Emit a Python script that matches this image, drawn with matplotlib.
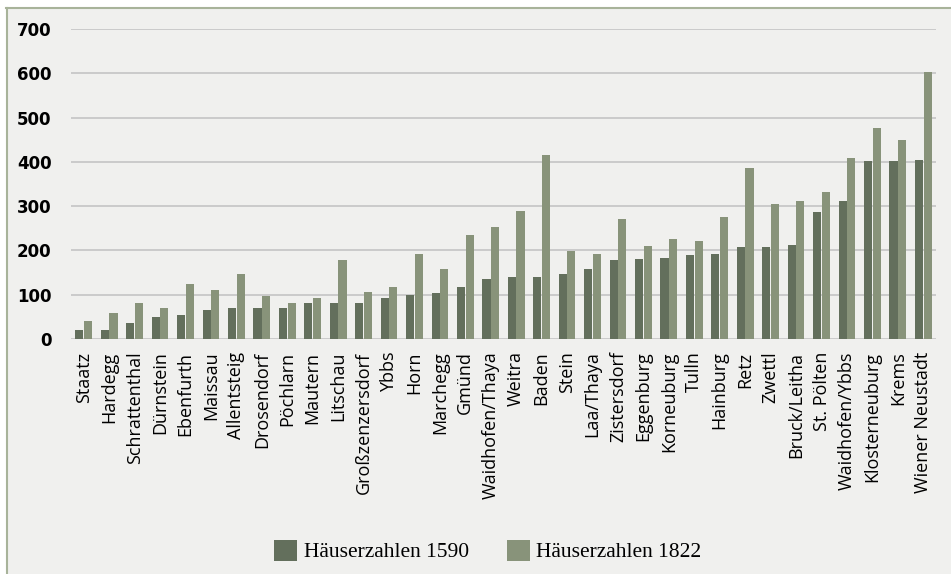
import matplotlib.pyplot as plt
import numpy as np
from matplotlib.patches import Patch, Rectangle
from matplotlib.lines import Line2D

# Häuserzahlen der niederösterreichischen Städte
towns = ['Staatz', 'Hardegg', 'Schrattenthal', 'Dürnstein', 'Ebenfurth', 'Maissau',
         'Allentsteig', 'Drosendorf', 'Pöchlarn', 'Mautern', 'Litschau', 'Großzenzersdorf',
         'Ybbs', 'Horn', 'Marchegg', 'Gmünd', 'Waidhofen/Thaya', 'Weitra', 'Baden', 'Stein',
         'Laa/Thaya', 'Zistersdorf', 'Eggenburg', 'Korneuburg', 'Tulln', 'Hainburg', 'Retz',
         'Zwettl', 'Bruck/Leitha', 'St. Pölten', 'Waidhofen/Ybbs', 'Klosterneuburg', 'Krems',
         'Wiener Neustadt']
houses_1590 = [20, 20, 36, 50, 54, 65, 70, 70, 70, 81, 81, 81, 93, 99, 104, 117, 135, 140,
               140, 147, 158, 178, 181, 183, 190, 192, 208, 208, 212, 287, 312, 402, 402, 404]
houses_1822 = [40, 58, 81, 70, 124, 111, 147, 97, 81, 93, 178, 106, 117, 192, 158, 235, 253,
               289, 415, 199, 192, 271, 210, 226, 221, 275, 386, 305, 312, 332, 409, 476, 449, 603]
yticks = [0, 100, 200, 300, 400, 500, 600, 700]
labels = ['Häuserzahlen 1590', 'Häuserzahlen 1822']

DARK = '#636f5c'
LIGHT = '#88937a'
BG = '#f0f0ee'

W, H = 951, 574
fig = plt.figure(figsize=(W / 100, H / 100), dpi=100, facecolor='white')

# panel background with left/top border
fig.patches.append(Rectangle((6 / W, 0), 1, 1 - 7.5 / H, transform=fig.transFigure,
                             facecolor=BG, edgecolor='none', zorder=-10))
fig.lines.append(Line2D([6.5 / W, 6.5 / W], [0, 1 - 7.5 / H], transform=fig.transFigure,
                        color='#a8b39a', lw=1.5, zorder=-9))
fig.lines.append(Line2D([6 / W, 1], [1 - 7.5 / H, 1 - 7.5 / H], transform=fig.transFigure,
                        color='#a8b39a', lw=1.5, zorder=-9))

ax = fig.add_axes([71 / W, 235 / H, 865 / W, 310 / H])
ax.set_facecolor('none')

x = np.arange(len(towns))
bw = 0.32
ax.bar(x - 0.17, houses_1590, width=bw, color=DARK, zorder=3)
ax.bar(x + 0.17, houses_1822, width=bw, color=LIGHT, zorder=3)

ax.set_xlim(-0.5, len(towns) - 0.5)
ax.set_ylim(0, 700)
ax.set_yticks(yticks)
ax.set_yticklabels([str(t) for t in yticks], fontfamily='DejaVu Sans', fontweight='bold',
                   fontsize=12)
ax.set_xticks(x)
ax.set_xticklabels(towns, rotation=90, fontfamily='Open Sans', fontsize=13, va='top')
ax.tick_params(axis='y', length=0, pad=14)
ax.tick_params(axis='x', length=0, pad=9)
ax.grid(axis='y', color='#c8c8c8', lw=1.3, zorder=0)
for s in ax.spines.values():
    s.set_visible(False)

handles = [Patch(facecolor=DARK), Patch(facecolor=LIGHT)]
fig.legend(handles, labels, loc='center', bbox_to_anchor=(488 / W, 1 - 551 / H),
           ncol=2, frameon=False, prop={'family': 'Liberation Serif', 'size': 15.5},
           handlelength=1.05, handleheight=1.15, handletextpad=0.3, columnspacing=1.8)

fig.savefig('out.png', dpi=100, facecolor='white')
